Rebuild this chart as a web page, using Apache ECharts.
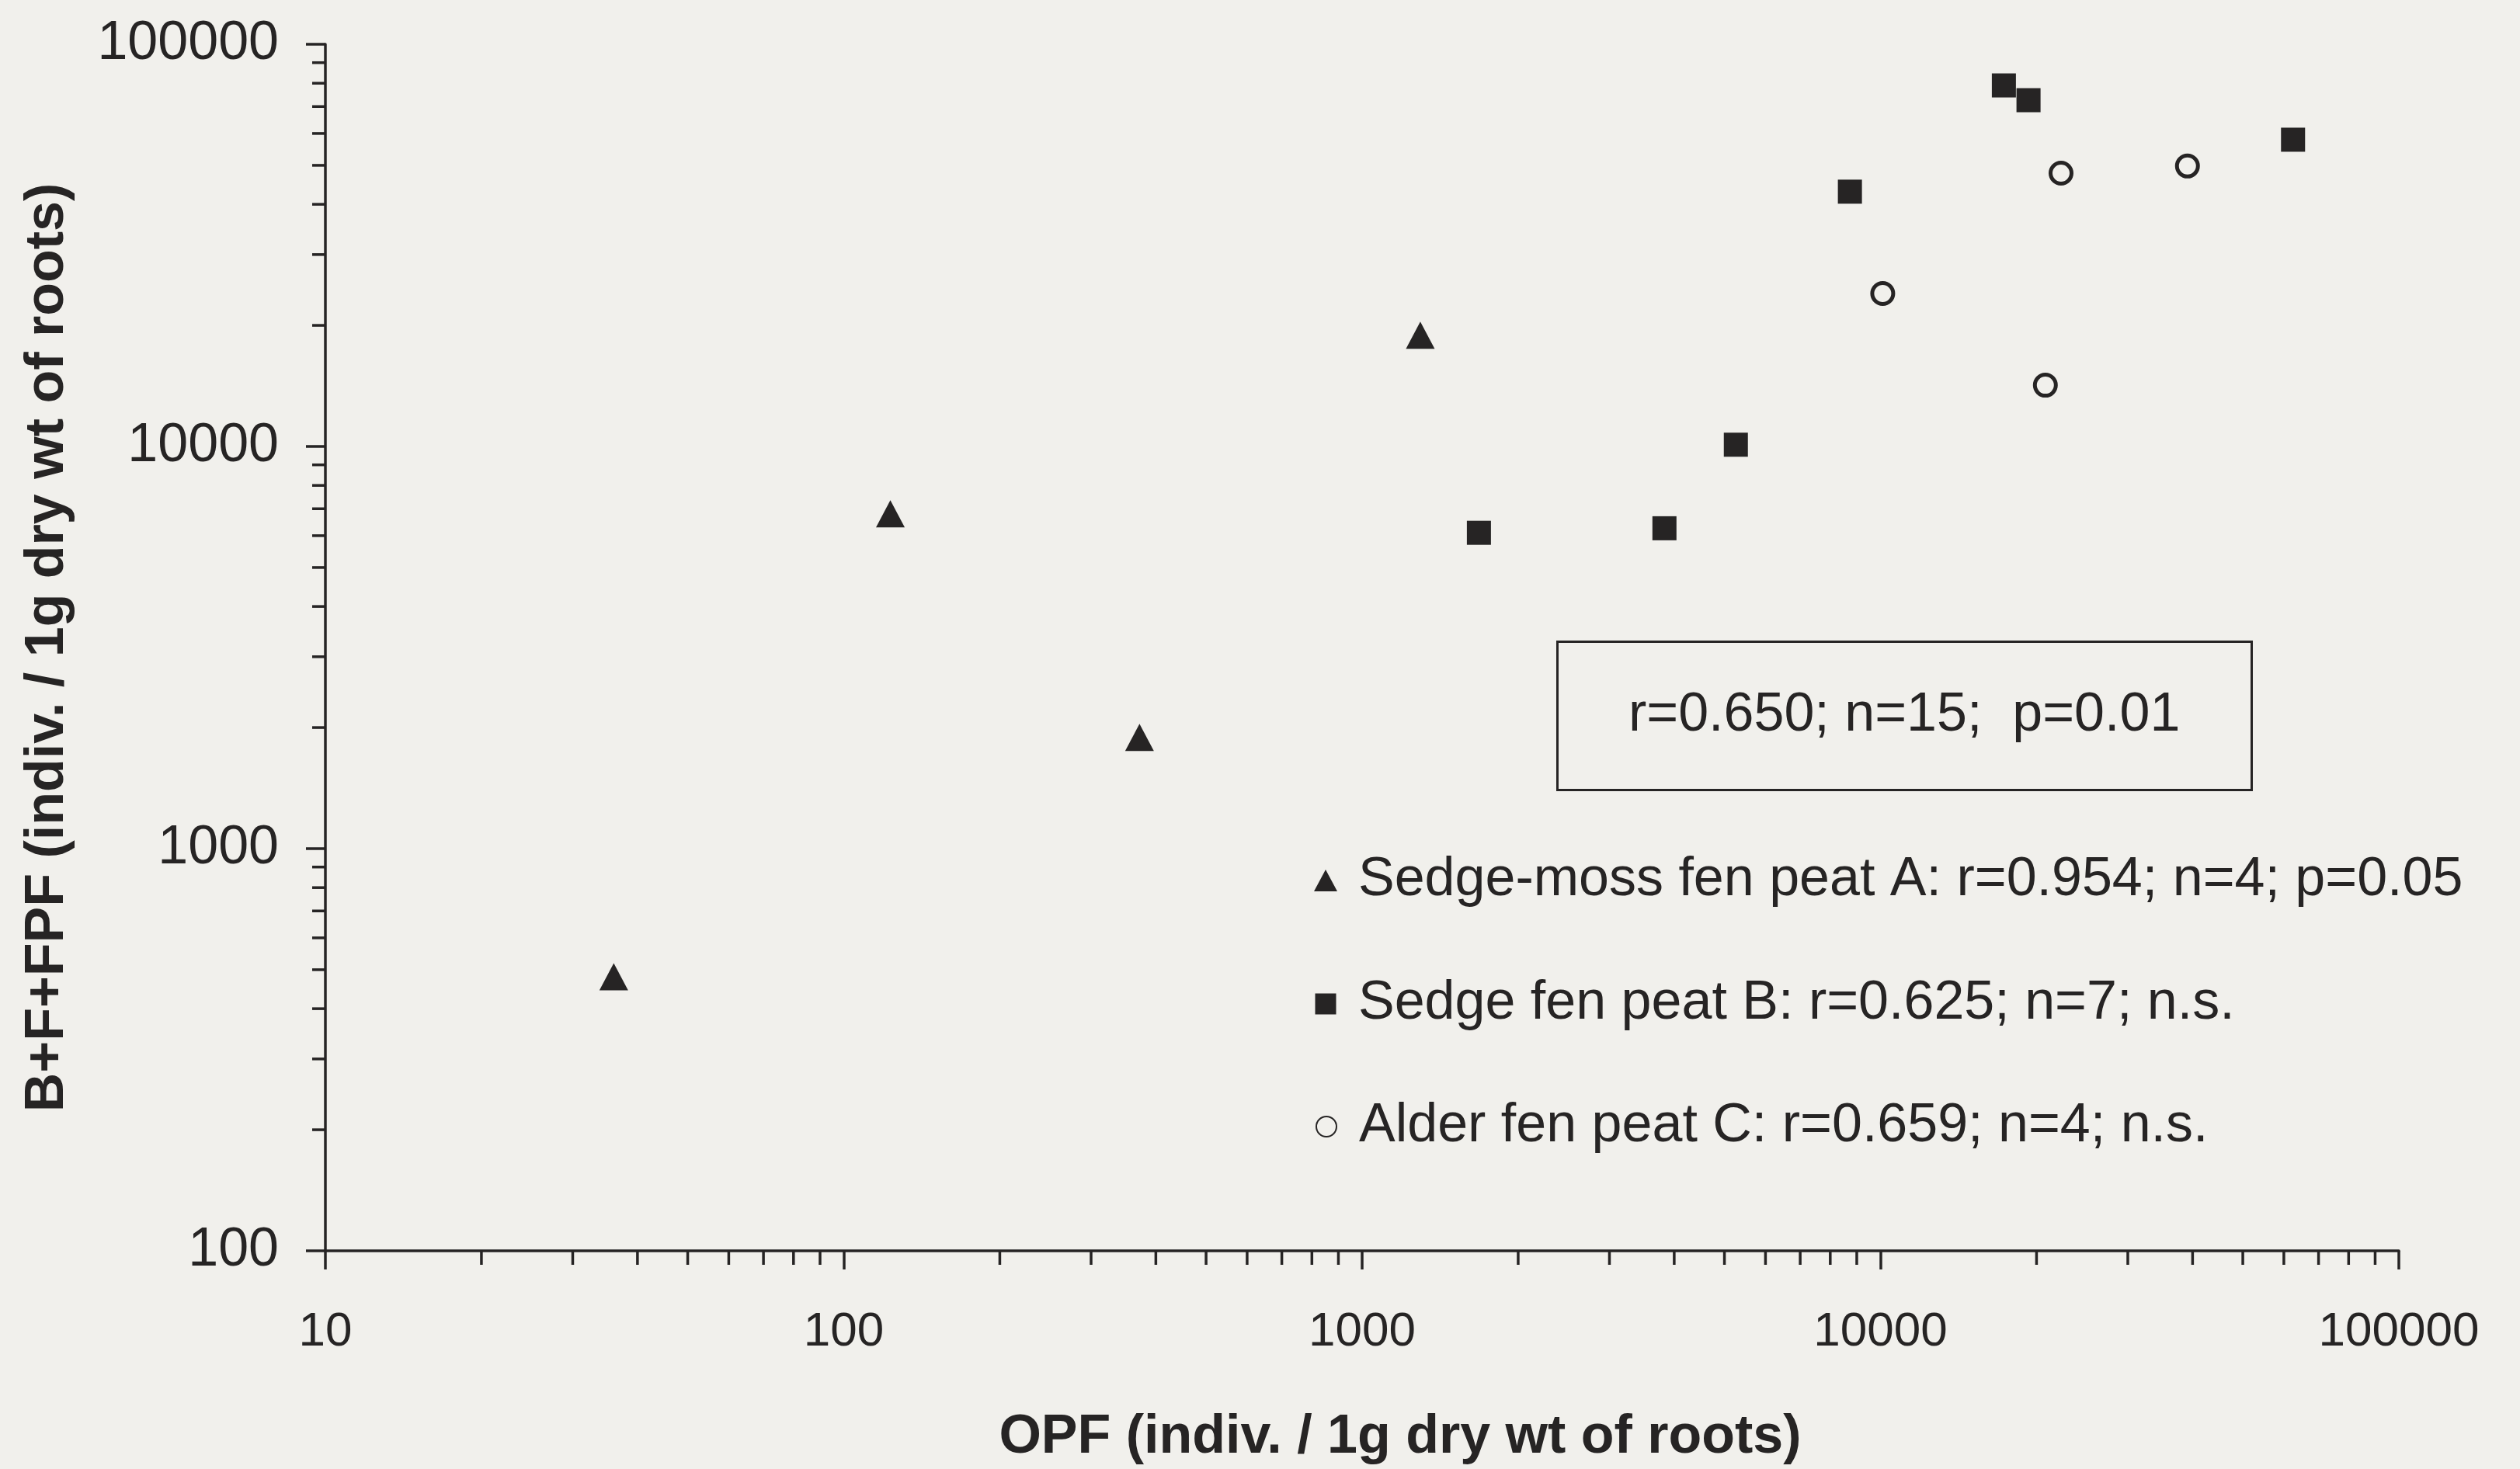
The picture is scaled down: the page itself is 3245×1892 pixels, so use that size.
<!DOCTYPE html>
<html>
<head>
<meta charset="utf-8">
<script src="https://cdn.jsdelivr.net/npm/echarts@6/dist/echarts.min.js"></script>
<style>
html,body{margin:0;padding:0;background:#f1f0ec;}
#chart{width:3245px;height:1892px;}
</style>
</head>
<body>
<div id="chart"></div>
<script>
// ---- data ----
const seriesNames = [
  'Sedge-moss fen peat A: r=0.954; n=4; p=0.05',
  'Sedge fen peat B: r=0.625; n=7; n.s.',
  'Alder fen peat C: r=0.659; n=4; n.s.'
];
const peatA_x = [36, 123, 372, 1295];
const peatA_y = [480, 6800, 1890, 18900];
const peatB_x = [1680, 3830, 5260, 8730, 17300, 19300, 62500];
const peatB_y = [6100, 6260, 10100, 43000, 79000, 72600, 57900];
const peatC_x = [10100, 22300, 39100, 20800];
const peatC_y = [24000, 47800, 49800, 14200];
const xTickLabels = ['10', '100', '1000', '10000', '100000'];
const yTickLabels = ['100', '1000', '10000', '100000'];
const xMinorTicks = [20,30,40,50,60,70,80,90, 200,300,400,500,600,700,800,900,
  2000,3000,4000,5000,6000,7000,8000,9000, 20000,30000,40000,50000,60000,70000,80000,90000];
const yMinorTicks = [200,300,400,500,600,700,800,900, 2000,3000,4000,5000,6000,7000,8000,9000,
  20000,30000,40000,50000,60000,70000,80000,90000];
const statsText = 'r=0.650; n=15;  p=0.01';
const xAxisName = 'OPF (indiv. / 1g dry wt of roots)';
const yAxisName = 'B+F+FPF (indiv. / 1g dry wt of roots)';

// ---- styling ----
const ink = '#262424';
const font = "'Liberation Sans', Arial, Helvetica, sans-serif";
const pairs = (xs, ys) => xs.map((x, i) => [x, ys[i]]);

const chart = echarts.init(document.getElementById('chart'), null, {renderer: 'canvas'});

function legendFor(idx, icon, top, w, h) {
  return {
    show: true, orient: 'vertical', left: 1707 - w / 2, top: top, padding: 0,
    itemWidth: w, itemHeight: h, selectedMode: false,
    data: [{name: seriesNames[idx], icon: icon}],
    textStyle: {fontFamily: font, fontSize: 70, color: ink, lineHeight: 80, padding: [0, 0, 0, 42 - w / 2 - 5]}
  };
}

const option = {
  backgroundColor: '#f1f0ec',
  animation: false,
  textStyle: {fontFamily: font},
  grid: {left: 419, right: 156, top: 57, bottom: 280, containLabel: false},
  title: {
    text: statsText,
    left: 2005, top: 826,
    padding: [59, 92],
    borderColor: ink, borderWidth: 3,
    textStyle: {fontFamily: font, fontSize: 70, fontWeight: 'normal', color: ink, lineHeight: 74}
  },
  legend: [
    legendFor(0, 'triangle', 1094, 30, 28),
    legendFor(1, 'rect', 1253, 27, 27),
    legendFor(2, 'circle', 1411, 26, 26)
  ],
  xAxis: {
    type: 'log', logBase: 10, min: 10, max: 100000,
    name: xAxisName, nameLocation: 'middle', nameGap: 206,
    nameTextStyle: {fontFamily: font, fontSize: 70, fontWeight: 'bold', color: ink, padding: [0, 0, 0, 98]},
    axisLine: {show: true, lineStyle: {color: ink, width: 3.5}},
    axisTick: {show: true, inside: false, length: 24, lineStyle: {color: ink, width: 3.5}},
    axisLabel: {margin: 74, fontSize: 62, color: ink, fontFamily: font,
      formatter: v => xTickLabels[Math.round(Math.log10(v)) - 1]},
    splitLine: {show: false}
  },
  yAxis: {
    type: 'log', logBase: 10, min: 100, max: 100000,
    name: yAxisName, nameLocation: 'middle', nameGap: 322, nameRotate: 90,
    nameTextStyle: {fontFamily: font, fontSize: 70, fontWeight: 'bold', color: ink},
    axisLine: {show: true, lineStyle: {color: ink, width: 3.5}},
    axisTick: {show: true, inside: false, length: 25, lineStyle: {color: ink, width: 3.5}},
    axisLabel: {margin: 60, fontSize: 70, color: ink, fontFamily: font,
      formatter: v => yTickLabels[Math.round(Math.log10(v)) - 2]},
    splitLine: {show: false}
  },
  series: [
    {
      name: seriesNames[0], type: 'scatter', symbol: 'triangle', symbolSize: [37, 35],
      itemStyle: {color: ink, opacity: 1}, data: pairs(peatA_x, peatA_y), z: 5
    },
    {
      name: seriesNames[1], type: 'scatter', symbol: 'rect', symbolSize: 31,
      itemStyle: {color: ink, opacity: 1}, data: pairs(peatB_x, peatB_y), z: 5
    },
    {
      name: seriesNames[2], type: 'scatter', symbol: 'circle', symbolSize: 27,
      itemStyle: {color: 'rgba(0,0,0,0)', borderColor: ink, borderWidth: 5, opacity: 1},
      data: pairs(peatC_x, peatC_y), z: 5
    },
    {
      type: 'custom', name: 'xMinor', silent: true, clip: false, z: 3,
      data: xMinorTicks.map(v => [v, 100]),
      renderItem: (params, api) => {
        const p = api.coord([api.value(0), api.value(1)]);
        return {type: 'line', shape: {x1: p[0], y1: p[1], x2: p[0], y2: p[1] + 18},
          style: {stroke: ink, lineWidth: 3.5}};
      }
    },
    {
      type: 'custom', name: 'yMinor', silent: true, clip: false, z: 3,
      data: yMinorTicks.map(v => [10, v]),
      renderItem: (params, api) => {
        const p = api.coord([api.value(0), api.value(1)]);
        return {type: 'line', shape: {x1: p[0] - 17, y1: p[1], x2: p[0], y2: p[1]},
          style: {stroke: ink, lineWidth: 3.5}};
      }
    }
  ]
};
chart.setOption(option);
</script>
</body>
</html>
